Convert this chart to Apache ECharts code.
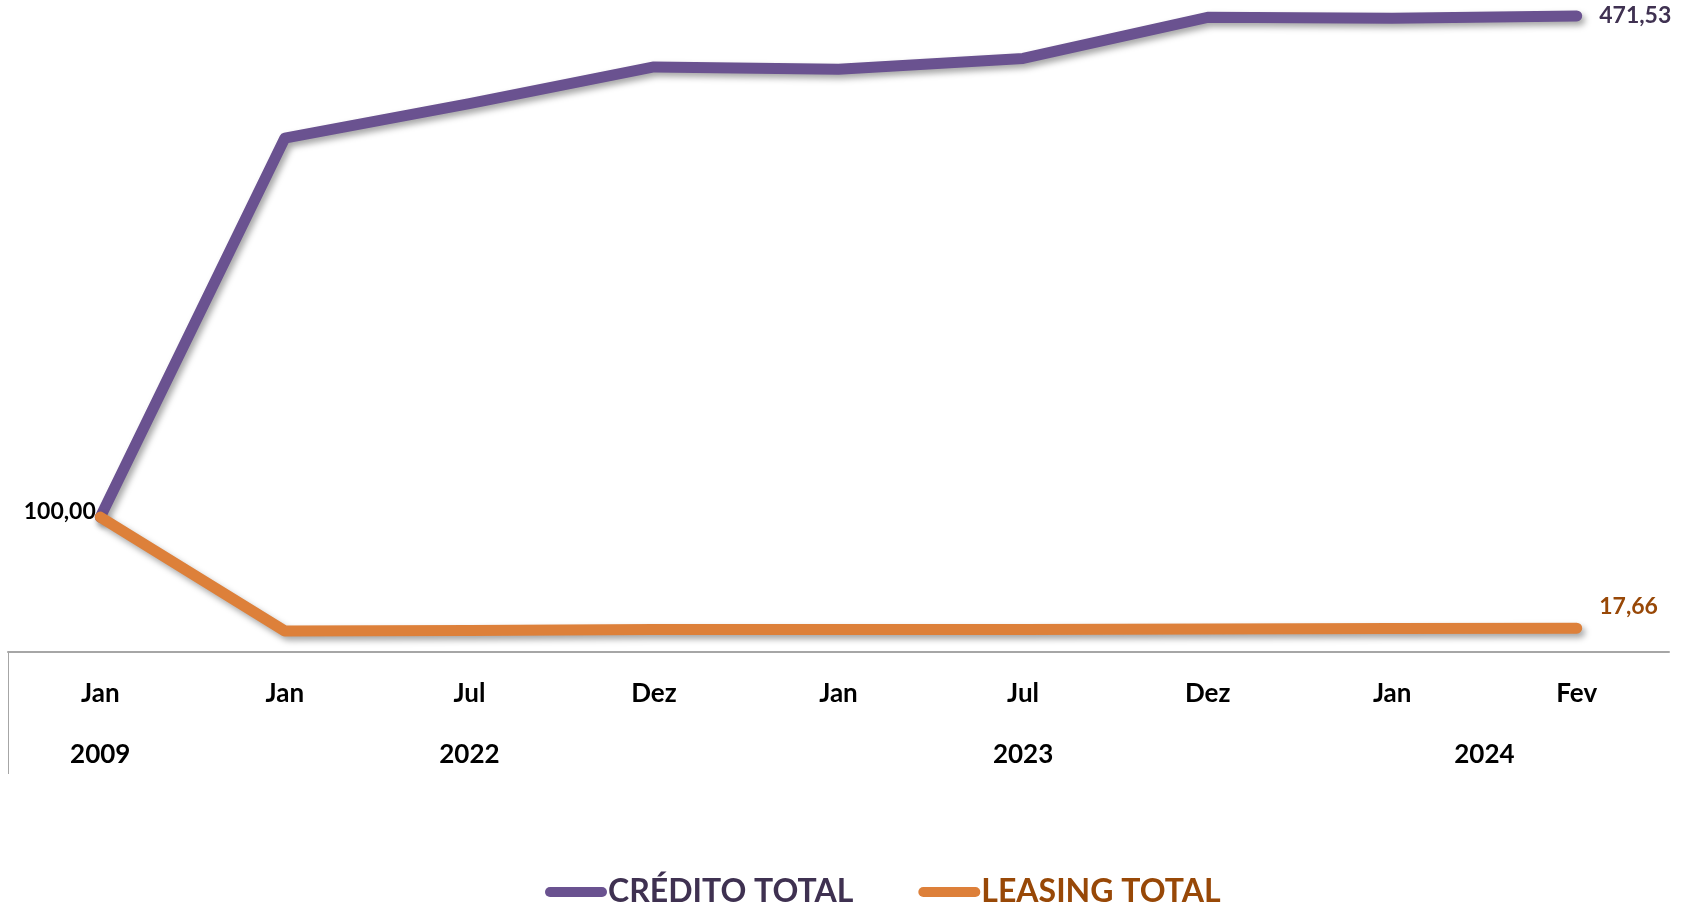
<!DOCTYPE html>
<html>
<head>
<meta charset="utf-8">
<script src="https://cdn.jsdelivr.net/npm/echarts@6/dist/echarts.min.js"></script>
<style>
  html, body { margin: 0; padding: 0; background: #fff; }
  #chart { width: 1692px; height: 907px; }
</style>
</head>
<body>
<div id="chart"></div>
<script>
// months on the first label row, years on the second
const months = ['Jan', 'Jan', 'Jul', 'Dez', 'Jan', 'Jul', 'Dez', 'Jan', 'Fev']
const years = ['2009', '2022', '2023', '2024']
const yearPos = [0, 2, 5, 7.5]   // category index under which each year sits

const credito = [100.00, 381, 406.5, 433.7, 432, 440, 470.5, 469.8, 471.53]
const leasing = [100.00, 15.6, 16.0, 16.6, 16.7, 16.7, 17.1, 17.4, 17.66]

const FONT = 'Lato'
const fmt = v => v.toFixed(2).replace('.', ',')

const purple = '#6A5290'
const orange = '#DD803A'

function withLabels(values, labels) {
  return values.map((v, i) => labels[i] ? { value: v, label: labels[i] } : v)
}

const creditoData = withLabels(credito, {
  0: { show: true, position: 'left', distance: 4, offset: [0, -6], color: '#000', formatter: p => fmt(p.value) },
  8: { show: true, position: 'right', distance: 22, color: '#3F3151', formatter: p => fmt(p.value) }
})
const leasingData = withLabels(leasing, {
  8: { show: true, position: 'right', distance: 22, offset: [0, -22], color: '#984807', formatter: p => fmt(p.value) }
})

const lineShadow = {
  shadowColor: 'rgba(0,0,0,0.35)',
  shadowBlur: 6,
  shadowOffsetX: 3,
  shadowOffsetY: 4
}

const pill = 'path://M5,0 L57,0 A5,5 0 0 1 57,10 L5,10 A5,5 0 0 1 5,0 Z'

const chart = echarts.init(document.getElementById('chart'))
chart.setOption({
  animation: false,
  textStyle: { fontFamily: FONT },
  grid: { left: 8, right: 23, top: 4.5, bottom: 255 },
  legend: {
    top: 871,
    left: 540,
    icon: pill,
    itemWidth: 62,
    itemHeight: 12,
    itemGap: 65,
    textStyle: { fontFamily: FONT, fontWeight: 'bold', fontSize: 32, padding: [0, 0, 0, -4] },
    data: [
      { name: 'CRÉDITO TOTAL', itemStyle: { color: purple }, textStyle: { color: '#3F3151' } },
      { name: 'LEASING TOTAL', itemStyle: { color: orange }, textStyle: { color: '#984807' } }
    ]
  },
  xAxis: [
    {
      type: 'category',
      data: months,
      boundaryGap: true,
      axisLine: { lineStyle: { color: '#a6a6a6', width: 2 } },
      axisTick: { show: false },
      axisLabel: { color: '#000', fontWeight: 'bold', fontSize: 26, margin: 29, fontFamily: FONT }
    },
    {
      type: 'value',
      position: 'bottom',
      min: -0.5,
      max: 8.5,
      axisLine: { show: false },
      splitLine: { show: false },
      axisTick: { show: true, customValues: [-0.5], length: 122, lineStyle: { color: '#a6a6a6', width: 1 } },
      axisLabel: {
        customValues: yearPos,
        margin: 90,
        color: '#000',
        fontWeight: 'bold',
        fontSize: 26,
        fontFamily: FONT,
        formatter: v => years[yearPos.indexOf(v)]
      }
    }
  ],
  yAxis: {
    type: 'value',
    min: 0,
    max: 480,
    show: false,
    splitLine: { show: false }
  },
  series: [
    {
      name: 'CRÉDITO TOTAL',
      type: 'line',
      data: creditoData,
      color: purple,
      symbol: 'circle',
      symbolSize: 1,
      showSymbol: true,
      itemStyle: { color: 'transparent' },
      lineStyle: Object.assign({ color: purple, width: 11, cap: 'round', join: 'round' }, lineShadow),
      label: { show: false, fontWeight: 'bold', fontSize: 23, fontFamily: FONT },
      z: 3
    },
    {
      name: 'LEASING TOTAL',
      type: 'line',
      data: leasingData,
      color: orange,
      symbol: 'circle',
      symbolSize: 1,
      showSymbol: true,
      itemStyle: { color: 'transparent' },
      lineStyle: Object.assign({ color: orange, width: 11, cap: 'round', join: 'round' }, lineShadow),
      label: { show: false, fontWeight: 'bold', fontSize: 23, fontFamily: FONT },
      z: 4
    }
  ]
})
</script>
</body>
</html>
